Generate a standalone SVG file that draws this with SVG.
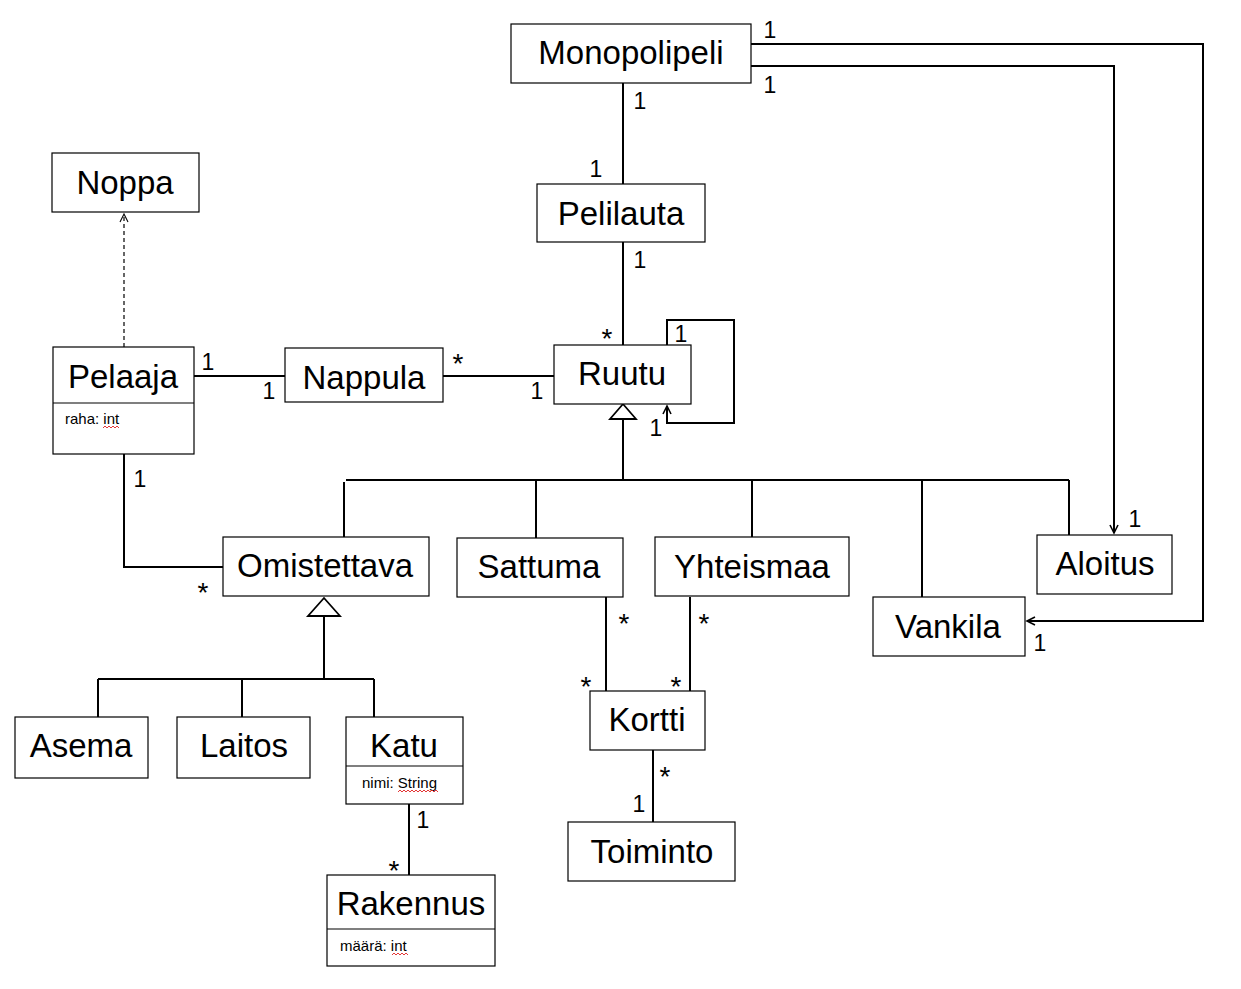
<svg xmlns="http://www.w3.org/2000/svg" width="1241" height="989" viewBox="0 0 1241 989">
<style>
.box{fill:#fff;stroke:#000;stroke-width:1.2}
.div{stroke:#000;stroke-width:1.2}
.t{font-family:"Liberation Sans",Arial,sans-serif;font-size:33px;fill:#000;text-anchor:middle}
.a{font-family:"Liberation Sans",Arial,sans-serif;font-size:15px;fill:#000}
.m{font-family:"Liberation Sans",Arial,sans-serif;font-size:23px;fill:#000;text-anchor:middle}
.s{font-family:"Liberation Sans",Arial,sans-serif;font-size:28px;fill:#000;text-anchor:middle}
.c{fill:none;stroke:#000;stroke-width:2}
.d{fill:none;stroke:#000;stroke-width:1.2;stroke-dasharray:4 3}
.g{fill:#fff;stroke:#000;stroke-width:1.8}
.sq{fill:none;stroke:#e02020;stroke-width:0.9}
</style>
<defs>
<marker id="open" markerWidth="12" markerHeight="12" refX="9" refY="5" orient="auto" markerUnits="userSpaceOnUse">
<path d="M1,1 L9,5 L1,9" fill="none" stroke="#000" stroke-width="1.6"/>
</marker>
<marker id="open2" markerWidth="12" markerHeight="12" refX="9" refY="5" orient="auto" markerUnits="userSpaceOnUse">
<path d="M1,1 L9,5 L1,9" fill="none" stroke="#000" stroke-width="1.1"/>
</marker>
</defs>
<rect width="1241" height="989" fill="#fff"/>

<g id="connectors">
<line class="c" x1="623" y1="83" x2="623" y2="184"/>
<line class="c" x1="623" y1="242" x2="623" y2="345"/>
<polyline class="c" points="751,44 1203,44 1203,621 1027,621" marker-end="url(#open)"/>
<polyline class="c" points="751,66 1114,66 1114,533" marker-end="url(#open)"/>
<polyline class="c" points="667,345 667,320 734,320 734,423 667,423 667,406" marker-end="url(#open)"/>
<line class="c" x1="194" y1="376" x2="285" y2="376"/>
<line class="c" x1="443" y1="376" x2="554" y2="376"/>
<line class="d" x1="124" y1="347" x2="124" y2="214" marker-end="url(#open2)"/>
<polyline class="c" points="124,454 124,567 223,567"/>
<line class="c" x1="623" y1="419" x2="623" y2="480"/>
<line class="c" x1="346" y1="480" x2="1069" y2="480"/>
<line class="c" x1="344" y1="482" x2="344" y2="537"/>
<line class="c" x1="536" y1="480" x2="536" y2="538"/>
<line class="c" x1="752" y1="480" x2="752" y2="537"/>
<line class="c" x1="922" y1="480" x2="922" y2="597"/>
<line class="c" x1="1069" y1="480" x2="1069" y2="535"/>
<polygon class="g" points="623,404 610,419 636,419"/>
<line class="c" x1="324" y1="616" x2="324" y2="679"/>
<line class="c" x1="98" y1="679" x2="374" y2="679"/>
<line class="c" x1="98" y1="679" x2="98" y2="717"/>
<line class="c" x1="242" y1="679" x2="242" y2="717"/>
<line class="c" x1="374" y1="679" x2="374" y2="717"/>
<polygon class="g" points="324,598 308,616 340,616"/>
<line class="c" x1="409" y1="804" x2="409" y2="875"/>
<line class="c" x1="606" y1="597" x2="606" y2="691"/>
<line class="c" x1="690" y1="597" x2="690" y2="691"/>
<line class="c" x1="653" y1="750" x2="653" y2="826"/>
</g>

<g id="labels">
<text class="m" x="770" y="38">1</text>
<text class="m" x="770" y="93">1</text>
<text class="m" x="640" y="109">1</text>
<text class="m" x="596" y="177">1</text>
<text class="m" x="640" y="268">1</text>
<text class="s" x="607" y="348">*</text>
<text class="m" x="681" y="342">1</text>
<text class="m" x="656" y="436">1</text>
<text class="m" x="208" y="370">1</text>
<text class="m" x="269" y="399">1</text>
<text class="s" x="458" y="373">*</text>
<text class="m" x="537" y="399">1</text>
<text class="m" x="140" y="487">1</text>
<text class="s" x="203" y="602">*</text>
<text class="m" x="1135" y="527">1</text>
<text class="m" x="1040" y="651">1</text>
<text class="s" x="624" y="633">*</text>
<text class="s" x="704" y="633">*</text>
<text class="s" x="586" y="696">*</text>
<text class="s" x="676" y="696">*</text>
<text class="s" x="665" y="786">*</text>
<text class="m" x="639" y="812">1</text>
<text class="m" x="423" y="828">1</text>
<text class="s" x="394" y="880">*</text>
</g>

<g id="Monopolipeli"><rect class="box" x="511" y="24" width="240" height="59"/><text class="t" x="631" y="64">Monopolipeli</text></g>
<g id="Pelilauta"><rect class="box" x="537" y="184" width="168" height="58"/><text class="t" x="621" y="225">Pelilauta</text></g>
<g id="Noppa"><rect class="box" x="52" y="153" width="147" height="59"/><text class="t" x="125" y="194">Noppa</text></g>
<g id="Pelaaja"><rect class="box" x="53" y="347" width="141" height="107"/><line class="div" x1="53" y1="403" x2="194" y2="403"/><text class="t" x="123" y="388">Pelaaja</text><text class="a" x="65" y="424">raha: int</text><path class="sq" d="M103,428 l2,-2 l2,2 l2,-2 l2,2 l2,-2 l2,2 l2,-2 l2,2"/></g>
<g id="Nappula"><rect class="box" x="285" y="348" width="158" height="54"/><text class="t" x="364" y="389">Nappula</text></g>
<g id="Ruutu"><rect class="box" x="554" y="345" width="137" height="59"/><text class="t" x="622" y="385">Ruutu</text></g>
<g id="Omistettava"><rect class="box" x="223" y="537" width="206" height="59"/><text class="t" x="325" y="577">Omistettava</text></g>
<g id="Sattuma"><rect class="box" x="457" y="538" width="166" height="59"/><text class="t" x="539" y="578">Sattuma</text></g>
<g id="Yhteismaa"><rect class="box" x="655" y="537" width="194" height="59"/><text class="t" x="752" y="578">Yhteismaa</text></g>
<g id="Aloitus"><rect class="box" x="1037" y="535" width="135" height="59"/><text class="t" x="1105" y="575">Aloitus</text></g>
<g id="Vankila"><rect class="box" x="873" y="597" width="152" height="59"/><text class="t" x="948" y="638">Vankila</text></g>
<g id="Asema"><rect class="box" x="15" y="717" width="133" height="61"/><text class="t" x="81" y="757">Asema</text></g>
<g id="Laitos"><rect class="box" x="177" y="717" width="133" height="61"/><text class="t" x="244" y="757">Laitos</text></g>
<g id="Katu"><rect class="box" x="346" y="717" width="117" height="87"/><line class="div" x1="346" y1="766" x2="463" y2="766"/><text class="t" x="404" y="757">Katu</text><text class="a" x="362" y="788">nimi: String</text><path class="sq" d="M398,792 l2,-2 l2,2 l2,-2 l2,2 l2,-2 l2,2 l2,-2 l2,2 l2,-2 l2,2 l2,-2 l2,2 l2,-2 l2,2 l2,-2 l2,2 l2,-2 l2,2 l2,-2 l2,2"/></g>
<g id="Kortti"><rect class="box" x="590" y="691" width="115" height="59"/><text class="t" x="647" y="731">Kortti</text></g>
<g id="Toiminto"><rect class="box" x="568" y="822" width="167" height="59"/><text class="t" x="652" y="863">Toiminto</text></g>
<g id="Rakennus"><rect class="box" x="327" y="875" width="168" height="91"/><line class="div" x1="327" y1="929" x2="495" y2="929"/><text class="t" x="411" y="915">Rakennus</text><text class="a" x="340" y="951">määrä: int</text><path class="sq" d="M392,955 l2,-2 l2,2 l2,-2 l2,2 l2,-2 l2,2 l2,-2 l2,2"/></g>
</svg>
